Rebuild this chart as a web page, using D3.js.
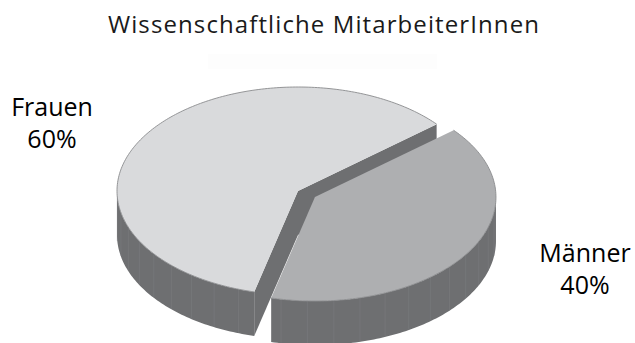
<!DOCTYPE html>
<html><head><meta charset="utf-8">
<script src="https://cdn.jsdelivr.net/npm/d3@7"></script>
<style>html,body{margin:0;padding:0;background:#fff;} svg{display:block;}</style>
</head><body>
<script>
// Data
const categories = ["Männer", "Frauen"];
const values = [40, 60];
const topColors = ["#aeafb1", "#d9dadc"];
const explodeBy = [20, 0];
const chartTitle = "Wissenschaftliche MitarbeiterInnen";

// Layout
const W = 635, H = 343;
const cx = 298, cy = 191, rx = 181, ry = 104, depth = 44;
const startDeg = 50;
const sideColor = "#6e6f71";
const seamColor = "#7d7e80";
const fontFamily = "'Open Sans', sans-serif";

const svg = d3.select("body").append("svg")
  .attr("width", W).attr("height", H);

svg.append("text")
  .attr("x", 324).attr("y", 33)
  .attr("text-anchor", "middle")
  .style("font-family", fontFamily)
  .style("font-size", "24px")
  .style("letter-spacing", "1.1px")
  .style("fill", "#1a1a1a")
  .text(chartTitle);

// faint empty subtitle box under the title
svg.append("rect")
  .attr("x", 208).attr("y", 54).attr("width", 229).attr("height", 15)
  .attr("fill", "#fdfdfd");

const start = startDeg * Math.PI / 180;
const pie = d3.pie().sort(null).startAngle(start).endAngle(start + 2 * Math.PI);
const arcs = pie(values);
const total = d3.sum(values);

// pie angle (clockwise from 12 o'clock) -> ellipse parameter (clockwise from 3 o'clock)
const toT = a => a - Math.PI / 2;

function pt(o, t, z) {
  return [o[0] + rx * Math.cos(t), o[1] + ry * Math.sin(t) + z];
}

function slices() {
  return arcs.map((a, i) => {
    const t0 = toT(a.startAngle), t1 = toT(a.endAngle);
    const mid = (t0 + t1) / 2;
    const k = explodeBy[i];
    const o = [cx + k * Math.cos(mid), cy + k * Math.sin(mid) * ry / rx];
    return {i, t0, t1, o};
  });
}

const line = d3.line();
const STEP = Math.PI / 180;

function arcPoints(o, a, b, z) {
  const n = Math.max(2, Math.ceil(Math.abs(b - a) / STEP));
  return d3.range(n + 1).map(j => pt(o, a + (b - a) * j / n, z));
}

// visible parts of the outer wall: the front half of the ellipse, t in [0, PI] (mod 2PI)
function visibleRanges(t0, t1) {
  const out = [];
  for (let k = -2; k <= 2; k++) {
    const lo = Math.max(t0, 2 * Math.PI * k), hi = Math.min(t1, 2 * Math.PI * k + Math.PI);
    if (hi > lo) out.push([lo, hi]);
  }
  return out;
}

const order = slices().sort((a, b) => explodeBy[a.i] - explodeBy[b.i]);

order.forEach(s => {
  const g = svg.append("g");
  const {o, t0, t1, i} = s;

  // cut faces facing the viewer
  const faces = [];
  if (Math.cos(t0) < 0) faces.push(t0);
  if (Math.cos(t1) > 0) faces.push(t1);
  faces.forEach(t => {
    const poly = [[o[0], o[1]], pt(o, t, 0), pt(o, t, depth), [o[0], o[1] + depth]];
    g.append("path").attr("d", line(poly) + "Z").attr("fill", sideColor);
  });

  // outer wall
  visibleRanges(t0, t1).forEach(([a, b]) => {
    const topPts = arcPoints(o, a, b, 0);
    const botPts = arcPoints(o, b, a, depth);
    g.append("path").attr("d", line(topPts.concat(botPts)) + "Z").attr("fill", sideColor);
    // panel seams
    const seamStep = 8.4 * Math.PI / 180;
    for (let t = Math.ceil(a / seamStep) * seamStep; t < b; t += seamStep) {
      if (t - a < 0.02 || b - t < 0.02) continue;
      const p = pt(o, t, 0), q = pt(o, t, depth);
      g.append("line")
        .attr("x1", p[0]).attr("y1", p[1] + 0.5).attr("x2", q[0]).attr("y2", q[1] - 0.5)
        .attr("stroke", seamColor).attr("stroke-width", 0.5);
    }
  });

  // top face
  const rim = arcPoints(o, t0, t1, 0);
  g.append("path")
    .attr("d", line([[o[0], o[1]]].concat(rim)) + "Z")
    .attr("fill", topColors[i]);
  g.append("path")
    .attr("d", line(rim))
    .attr("fill", "none")
    .attr("stroke", "#8a8b8d")
    .attr("stroke-width", 0.9);
});

// labels: name and share, one line each
const labelPos = [[585, 262, 32], [52, 116, 32]];
categories.forEach((c, i) => {
  const [x, y, gap] = labelPos[i];
  const g = svg.append("g")
    .attr("text-anchor", "middle")
    .style("font-family", fontFamily)
    .style("font-size", "25px")
    .style("fill", "#000");
  g.append("text").attr("x", x).attr("y", y).text(c);
  g.append("text").attr("x", x).attr("y", y + gap)
    .text(Math.round(values[i] / total * 100) + "%");
});
</script>
</body></html>
